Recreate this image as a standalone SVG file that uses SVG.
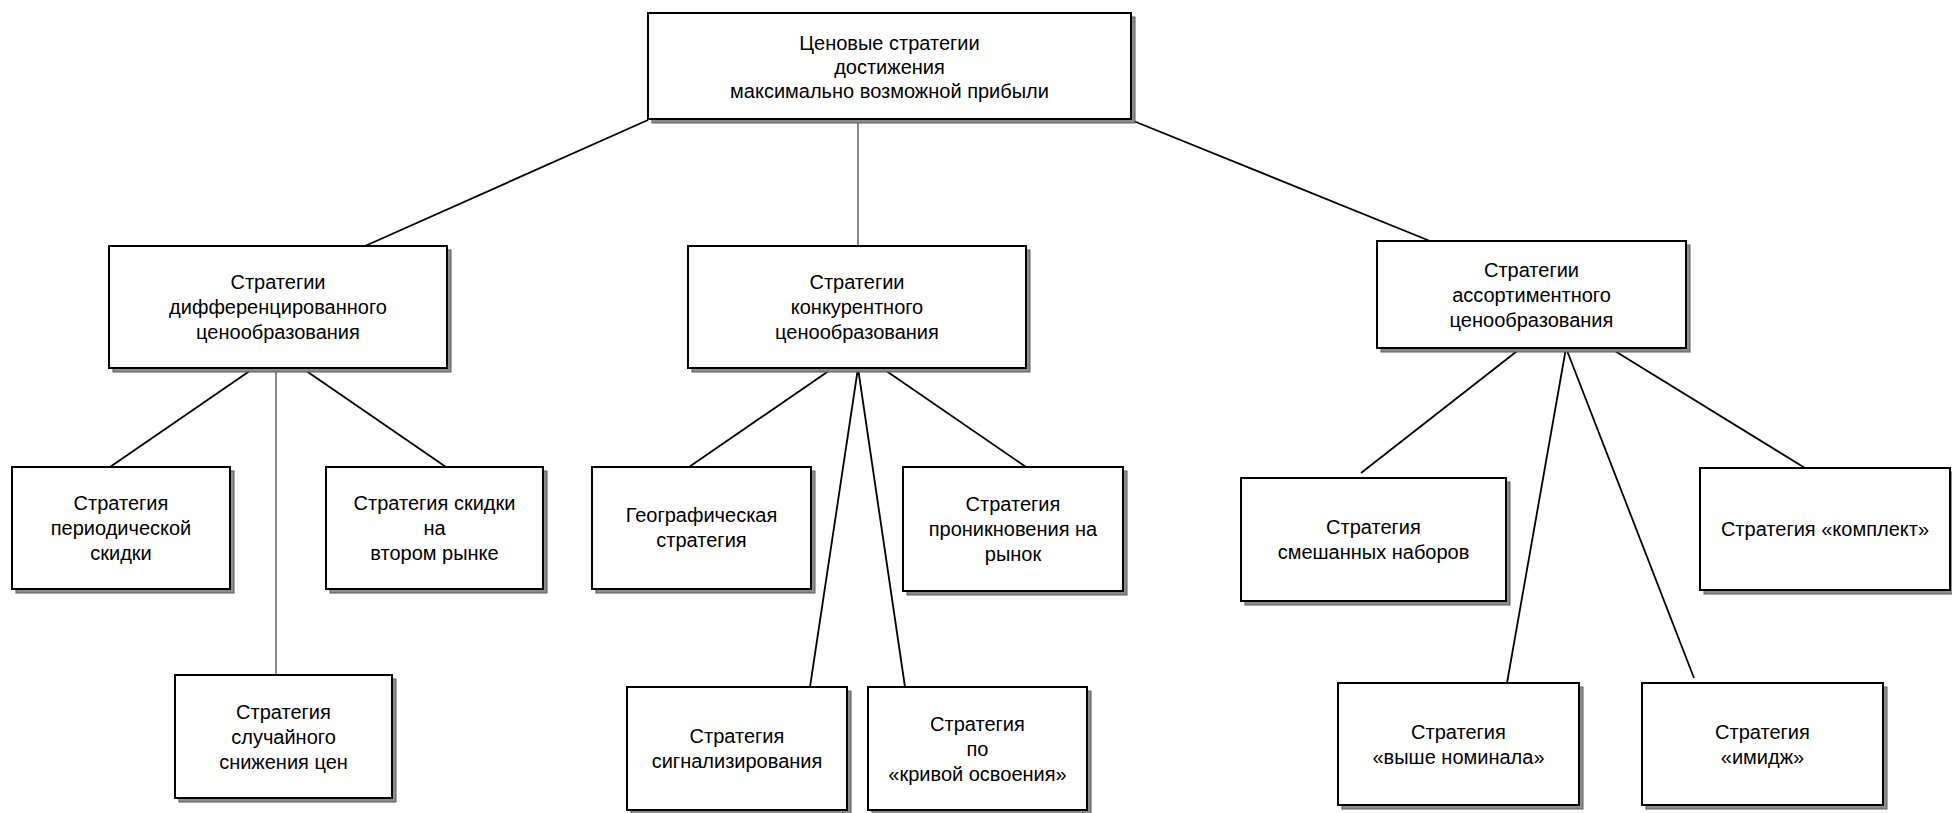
<svg xmlns="http://www.w3.org/2000/svg" width="1952" height="813" viewBox="0 0 1952 813">
<style>
.sh{fill:#8c8c8c;stroke:#5a5a5a;stroke-width:1}
.bx{fill:#fff;stroke:#000;stroke-width:2}
.ln{stroke:#000;stroke-width:1.8;fill:none}
.lt{stroke:#3a3a3a;stroke-width:1.2;fill:none}
text{font-family:"Liberation Sans",Arial,sans-serif;font-size:20px;fill:#000;text-anchor:middle}
</style>
<rect width="1952" height="813" fill="#fff"/>
<g id="connectors">
<line class="ln" x1="648" y1="120" x2="365" y2="246"/>
<line class="lt" x1="858" y1="120" x2="858" y2="246"/>
<line class="ln" x1="1131" y1="120" x2="1430" y2="241"/>
<line class="ln" x1="254" y1="368" x2="110" y2="467"/>
<line class="lt" x1="276" y1="368" x2="276" y2="675"/>
<line class="ln" x1="302" y1="368" x2="446" y2="467"/>
<line class="ln" x1="833" y1="368" x2="689" y2="467"/>
<line class="ln" x1="858" y1="368" x2="810" y2="687"/>
<line class="ln" x1="858" y1="368" x2="905" y2="687"/>
<line class="ln" x1="882" y1="368" x2="1026" y2="467"/>
<line class="ln" x1="1521" y1="348" x2="1361" y2="473"/>
<line class="ln" x1="1566" y1="348" x2="1507" y2="683"/>
<line class="ln" x1="1566" y1="348" x2="1694" y2="678"/>
<line class="ln" x1="1610" y1="348" x2="1805" y2="468"/>
</g>
<g id="root">
<rect class="sh" x="652" y="17" width="483" height="106"/>
<rect class="bx" x="648" y="13" width="483" height="106"/>
<text x="889.5" y="50">Ценовые стратегии</text>
<text x="889.5" y="74">достижения</text>
<text x="889.5" y="98">максимально возможной прибыли</text>
</g>
<g id="diff">
<rect class="sh" x="113" y="250" width="338" height="122"/>
<rect class="bx" x="109" y="246" width="338" height="122"/>
<text x="278" y="289">Стратегии</text>
<text x="278" y="314">дифференцированного</text>
<text x="278" y="339">ценообразования</text>
</g>
<g id="comp">
<rect class="sh" x="692" y="250" width="338" height="122"/>
<rect class="bx" x="688" y="246" width="338" height="122"/>
<text x="857" y="289">Стратегии</text>
<text x="857" y="314">конкурентного</text>
<text x="857" y="339">ценообразования</text>
</g>
<g id="assort">
<rect class="sh" x="1381" y="245" width="309" height="107"/>
<rect class="bx" x="1377" y="241" width="309" height="107"/>
<text x="1531.5" y="277">Стратегии</text>
<text x="1531.5" y="302">ассортиментного</text>
<text x="1531.5" y="327">ценообразования</text>
</g>
<g id="periodic">
<rect class="sh" x="16" y="471" width="218" height="122"/>
<rect class="bx" x="12" y="467" width="218" height="122"/>
<text x="121" y="510">Стратегия</text>
<text x="121" y="535">периодической</text>
<text x="121" y="560">скидки</text>
</g>
<g id="second">
<rect class="sh" x="330" y="471" width="217" height="122"/>
<rect class="bx" x="326" y="467" width="217" height="122"/>
<text x="434.5" y="510">Стратегия скидки</text>
<text x="434.5" y="535">на</text>
<text x="434.5" y="560">втором рынке</text>
</g>
<g id="random">
<rect class="sh" x="179" y="679" width="217" height="123"/>
<rect class="bx" x="175" y="675" width="217" height="123"/>
<text x="283.5" y="719">Стратегия</text>
<text x="283.5" y="744">случайного</text>
<text x="283.5" y="769">снижения цен</text>
</g>
<g id="geo">
<rect class="sh" x="596" y="471" width="219" height="122"/>
<rect class="bx" x="592" y="467" width="219" height="122"/>
<text x="701.5" y="522">Географическая</text>
<text x="701.5" y="547">стратегия</text>
</g>
<g id="pen">
<rect class="sh" x="907" y="471" width="220" height="124"/>
<rect class="bx" x="903" y="467" width="220" height="124"/>
<text x="1013" y="511">Стратегия</text>
<text x="1013" y="536">проникновения на</text>
<text x="1013" y="561">рынок</text>
</g>
<g id="signal">
<rect class="sh" x="631" y="691" width="220" height="123"/>
<rect class="bx" x="627" y="687" width="220" height="123"/>
<text x="737" y="743">Стратегия</text>
<text x="737" y="768">сигнализирования</text>
</g>
<g id="curve">
<rect class="sh" x="872" y="691" width="219" height="123"/>
<rect class="bx" x="868" y="687" width="219" height="123"/>
<text x="977.5" y="731">Стратегия</text>
<text x="977.5" y="756">по</text>
<text x="977.5" y="781">«кривой освоения»</text>
</g>
<g id="mixed">
<rect class="sh" x="1245" y="482" width="265" height="123"/>
<rect class="bx" x="1241" y="478" width="265" height="123"/>
<text x="1373.5" y="534">Стратегия</text>
<text x="1373.5" y="559">смешанных наборов</text>
</g>
<g id="complect">
<rect class="sh" x="1704" y="472" width="250" height="122"/>
<rect class="bx" x="1700" y="468" width="250" height="122"/>
<text x="1825" y="536">Стратегия «комплект»</text>
</g>
<g id="nominal">
<rect class="sh" x="1342" y="687" width="241" height="122"/>
<rect class="bx" x="1338" y="683" width="241" height="122"/>
<text x="1458.5" y="739">Стратегия</text>
<text x="1458.5" y="764">«выше номинала»</text>
</g>
<g id="image">
<rect class="sh" x="1646" y="687" width="241" height="122"/>
<rect class="bx" x="1642" y="683" width="241" height="122"/>
<text x="1762.5" y="739">Стратегия</text>
<text x="1762.5" y="764">«имидж»</text>
</g>
</svg>
